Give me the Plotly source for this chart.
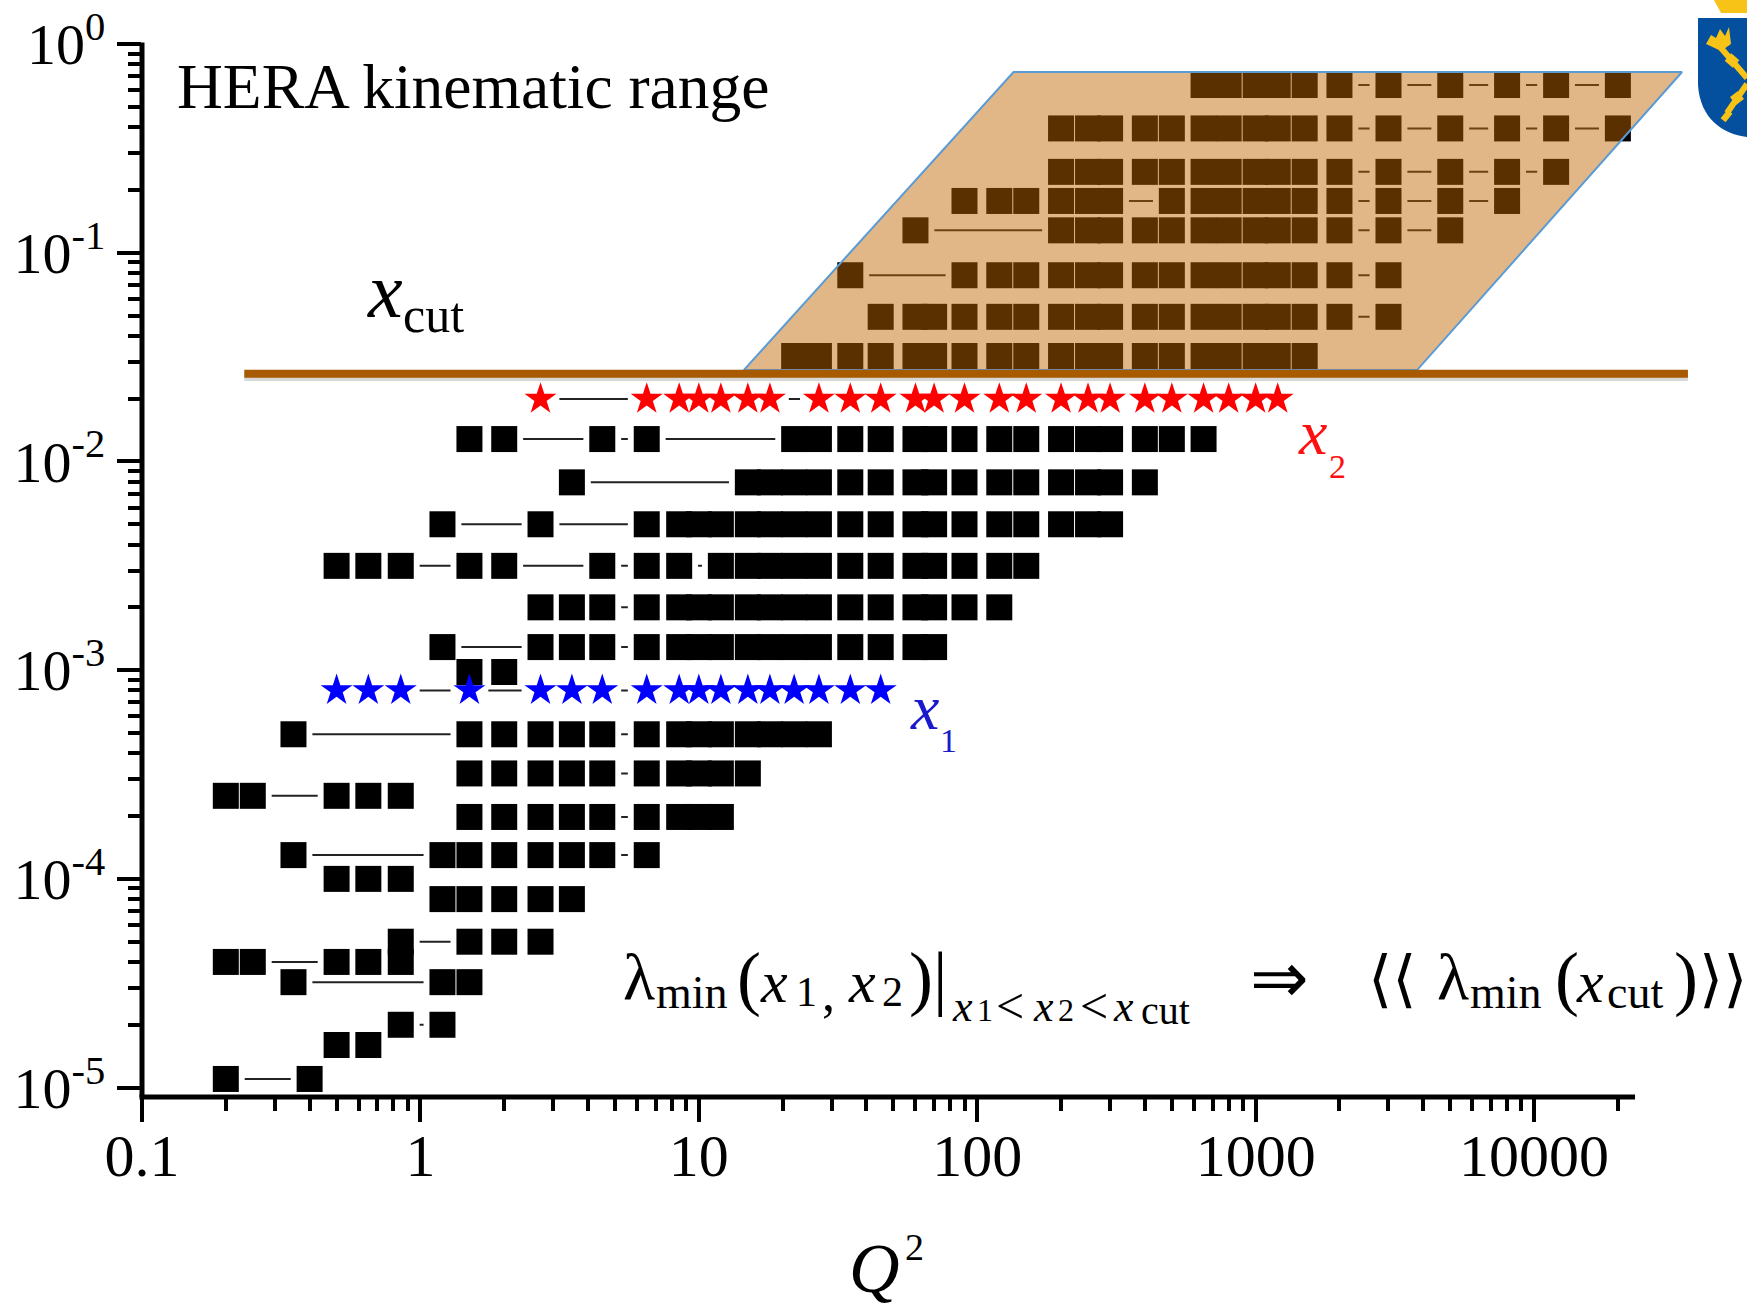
import plotly.graph_objects as go

# Q^2 grid rows of the HERA kinematic plane; each x value has its list of Q^2 points
X_A = 0.636
Q2_A = [650, 800, 1000, 1200, 1500, 2000, 3000, 5000, 8000, 12000, 20000]
X_B = 0.394
Q2_B = [200, 250, 300, 400, 500, 650, 800, 1000, 1200, 1500, 2000, 3000, 5000, 8000, 12000, 20000]
X_C = 0.244
Q2_C = [200, 250, 300, 400, 500, 650, 800, 1000, 1200, 1500, 2000, 3000, 5000, 8000, 12000]
X_D = 0.177
Q2_D = [90, 120, 150, 200, 250, 300, 500, 650, 800, 1000, 1200, 1500, 2000, 3000, 5000, 8000]
X_E = 0.128
Q2_E = [60, 200, 250, 300, 400, 500, 650, 800, 1000, 1200, 1500, 2000, 3000, 5000]
X_F = 0.078
Q2_F = [35, 90, 120, 150, 200, 250, 300, 400, 500, 650, 800, 1000, 1200, 1500, 2000, 3000]
X_G = 0.0493
Q2_G = [45, 60, 70, 90, 120, 150, 200, 250, 300, 400, 500, 650, 800, 1000, 1200, 1500, 2000, 3000]
X_H = 0.032
Q2_H = [22, 27, 35, 45, 60, 70, 90, 120, 150, 200, 250, 300, 400, 500, 650, 800, 1000, 1200, 1500]
X_I = 0.0128
Q2_I = [1.5, 2, 4.5, 6.5, 22, 27, 35, 45, 60, 70, 90, 120, 150, 200, 250, 300, 400, 500, 650]
X_J = 0.00794
Q2_J = [3.5, 15, 18, 22, 27, 35, 45, 60, 70, 90, 120, 150, 200, 250, 300, 400]
X_K = 0.005
Q2_K = [1.2, 2.7, 6.5, 8.5, 10, 12, 15, 18, 22, 27, 35, 45, 60, 70, 90, 120, 150, 200, 250, 300]
X_L = 0.00316
Q2_L = [0.5, 0.65, 0.85, 1.5, 2, 4.5, 6.5, 8.5, 12, 15, 18, 22, 27, 35, 45, 60, 70, 90, 120, 150]
X_M = 0.002
Q2_M = [2.7, 3.5, 4.5, 6.5, 8.5, 10, 12, 15, 18, 22, 27, 35, 45, 60, 70, 90, 120]
X_N = 0.00129
Q2_N = [1.2, 2.7, 3.5, 4.5, 6.5, 8.5, 10, 12, 15, 18, 22, 27, 35, 45, 60, 70]
X_O = 0.00098
Q2_O = [1.5, 2]
X_P = 0.000493
Q2_P = [0.35, 1.5, 2, 2.7, 3.5, 4.5, 6.5, 8.5, 10, 12, 15, 18, 22, 27]
X_Q = 0.00032
Q2_Q = [1.5, 2, 2.7, 3.5, 4.5, 6.5, 8.5, 10, 12, 15]
X_R = 0.00025
Q2_R = [0.2, 0.25, 0.5, 0.65, 0.85]
X_S = 0.000198
Q2_S = [1.5, 2, 2.7, 3.5, 4.5, 6.5, 8.5, 10, 12]
X_T = 0.00013
Q2_T = [0.35, 1.2, 1.5, 2, 2.7, 3.5, 4.5, 6.5]
X_U = 0.0001
Q2_U = [0.5, 0.65, 0.85]
X_V = 0.00008
Q2_V = [1.2, 1.5, 2, 2.7, 3.5]
X_W = 0.00005
Q2_W = [0.85, 1.5, 2, 2.7]
X_Y = 0.00004
Q2_Y = [0.2, 0.25, 0.5, 0.65, 0.85]
X_Z = 0.000032
Q2_Z = [0.35, 1.2, 1.5]
X_AA = 0.00002
Q2_AA = [0.85, 1.2]
X_AB = 0.000016
Q2_AB = [0.5, 0.65]
X_AC = 0.000011
Q2_AC = [0.2, 0.4]

X_RED = 0.0199
Q2_RED = [2.7, 6.5, 8.5, 10, 12, 15, 18, 27, 35, 45, 60, 70, 90, 120, 150, 200, 250, 300, 400, 500, 650, 800, 1000, 1200]
X_BLUE = 0.0008
Q2_BLUE = [0.5, 0.65, 0.85, 1.5, 2.7, 3.5, 4.5, 6.5, 8.5, 10, 12, 15, 18, 22, 27, 35, 45]

X_CUT = 0.0263
Q2_CUT_SPAN = [0.233, 35700]
REGION_Q2 = [14.5, 135, 34000, 3800, 14.5]
REGION_X = [0.0274, 0.734, 0.734, 0.0274, 0.0274]

X_TICK_VALUES = [0.1, 1, 10, 100, 1000, 10000]
X_TICK_LABELS = ["0.1", "1", "10", "100", "1000", "10000"]
Y_TICK_VALUES = [1, 0.1, 0.01, 0.001, 0.0001, 0.00001]
Y_TICK_LABELS = ["10<sup>0</sup>", "10<sup>-1</sup>", "10<sup>-2</sup>", "10<sup>-3</sup>", "10<sup>-4</sup>", "10<sup>-5</sup>"]

square_rows = [
    (X_A, Q2_A), (X_B, Q2_B), (X_C, Q2_C), (X_D, Q2_D), (X_E, Q2_E), (X_F, Q2_F), (X_G, Q2_G), (X_H, Q2_H),
    (X_I, Q2_I), (X_J, Q2_J), (X_K, Q2_K), (X_L, Q2_L), (X_M, Q2_M), (X_N, Q2_N), (X_O, Q2_O), (X_P, Q2_P),
    (X_Q, Q2_Q), (X_R, Q2_R), (X_S, Q2_S), (X_T, Q2_T), (X_U, Q2_U), (X_V, Q2_V), (X_W, Q2_W), (X_Y, Q2_Y),
    (X_Z, Q2_Z), (X_AA, Q2_AA), (X_AB, Q2_AB), (X_AC, Q2_AC),
]
all_rows = square_rows + [(X_RED, Q2_RED), (X_BLUE, Q2_BLUE)]


def flatten(rows):
    xs, ys = [], []
    for y, qs in rows:
        xs += list(qs) + [None]
        ys += [y] * len(qs) + [None]
    return xs, ys


W, H = 1747, 1309
L, T, B = 141.5, 44.0, 1096.7
SERIF = "Liberation Serif"
fig = go.Figure()

# connecting lines, then a white stroke on each point that opens the gap around the symbols
lx, ly = flatten(all_rows)
fig.add_trace(go.Scatter(x=lx, y=ly, mode="lines", line=dict(color="#222222", width=2), connectgaps=False,
                         hoverinfo="skip", showlegend=False))
fig.add_trace(go.Scatter(x=lx, y=ly, mode="markers", hoverinfo="skip", showlegend=False,
                         marker=dict(symbol="line-ew", size=27, color="white", line=dict(color="white", width=5))))
sx, sy = flatten(square_rows)
fig.add_trace(go.Scatter(x=sx, y=sy, mode="markers", name="data", showlegend=False,
                         marker=dict(symbol="square", size=26, color="black", line=dict(width=0))))
fig.add_trace(go.Scatter(x=Q2_RED, y=[X_RED] * len(Q2_RED), mode="markers", name="x2", showlegend=False,
                         marker=dict(symbol="star", size=24, color="#ff0000", line=dict(width=0))))
fig.add_trace(go.Scatter(x=Q2_BLUE, y=[X_BLUE] * len(Q2_BLUE), mode="markers", name="x1", showlegend=False,
                         marker=dict(symbol="star", size=24, color="#0000ff", line=dict(width=0))))

# translucent region on top of the points, so that they turn brown under it
fig.add_trace(go.Scatter(x=REGION_Q2, y=REGION_X, mode="lines", fill="toself", fillcolor="rgba(191,102,0,0.47)",
                         line=dict(color="#5b9bd5", width=2), hoverinfo="skip", showlegend=False))
# x_cut line with its soft shadow
fig.add_trace(go.Scatter(x=Q2_CUT_SPAN, y=[X_CUT * 0.965] * 2, mode="lines", hoverinfo="skip",
                         line=dict(color="rgba(60,60,60,0.2)", width=8), showlegend=False))
fig.add_trace(go.Scatter(x=Q2_CUT_SPAN, y=[X_CUT] * 2, mode="lines", hoverinfo="skip",
                         line=dict(color="#a85a00", width=8), showlegend=False))


def px(x):
    return (x - L) / (W - L)


def py(y):
    return 1 - (y - T) / (B - T)


def label(text, x, y, size, color="black", anchor="left", family=SERIF):
    fig.add_annotation(text=text, x=px(x), y=py(y), xref="paper", yref="paper", showarrow=False,
                       xanchor=anchor, yanchor="middle", align="left",
                       font=dict(family=family, size=size, color=color))


label("HERA kinematic range", 175, 86, 63.5)
label("<i>x</i>", 365, 290, 78)
label("cut", 401, 315, 50)
label("<i>x</i>", 1296, 432, 64, "#ff1010")
label("2", 1327, 466, 34, "#ff1010")
label("<i>x</i>", 908, 707, 64, "#1a1acc")
label("1", 938, 740, 34, "#1a1acc")
label("<i>Q</i>", 847, 1268, 70)
label("2", 903, 1247, 38)

# formula, piece by piece
label("λ", 621, 976, 66)
label("min", 654, 992, 46)
label("(", 735, 978, 72)
label("<i>x</i>", 758, 982, 60)
label("1", 794, 992, 42)
label(",", 820, 992, 52)
label("<i>x</i>", 846, 982, 60)
label("2", 880, 992, 42)
label(")", 907, 978, 72)
label("|", 931, 978, 72)
label("<i>x</i>", 950, 1006, 44)
label("1", 975, 1010, 32)
label("&lt;", 994, 1006, 50)
label("<i>x</i>", 1031, 1006, 44)
label("2", 1056, 1010, 32)
label("&lt;", 1078, 1006, 50)
label("<i>x</i>", 1111, 1006, 44)
label("cut", 1139, 1010, 40)
label("⇒", 1248, 978, 70, family="DejaVu Sans")
label("⟨⟨", 1366, 978, 62, family="DejaVu Sans")
label("λ", 1435, 976, 66)
label("min", 1468, 992, 46)
label("(", 1553, 978, 72)
label("<i>x</i>", 1574, 982, 60)
label("cut", 1605, 992, 46)
label(")", 1672, 978, 72)
label("⟩⟩", 1697, 978, 62, family="DejaVu Sans")

# crest at the top right corner
shapes = []


def shape_path(points, fill):
    d = ""
    for cmd, *coords in points:
        d += cmd + " ".join(f"{px(coords[i]):.5f},{py(coords[i + 1]):.5f}" for i in range(0, len(coords), 2)) + " "
    shapes.append(dict(type="path", path=d + "Z", xref="paper", yref="paper", fillcolor=fill, line=dict(width=0), layer="above"))


def shape_line(x0, y0, x1, y1, width, color="#f7c316"):
    shapes.append(dict(type="line", xref="paper", yref="paper", x0=px(x0), y0=py(y0), x1=px(x1), y1=py(y1),
                       line=dict(color=color, width=width), layer="above"))


# axis lines
shape_line(139, B, 1635, B, 5, "black")
shape_line(L, T - 1.5, L, B, 5, "black")

shape_path([("M", 1698, 18), ("L", 1747, 18), ("L", 1747, 137), ("C", 1722, 134, 1700, 118, 1698, 85)], "#044f9e")
shape_path([("M", 1714, 0), ("L", 1747, 0), ("L", 1747, 13), ("L", 1721, 13)], "#f7c316")
shape_path([("M", 1706, 44), ("L", 1711, 35), ("L", 1716, 38), ("L", 1720, 29), ("L", 1725, 36), ("L", 1729, 27),
            ("L", 1731, 44), ("L", 1721, 51)], "#f7c316")
shape_line(1721, 48, 1747, 78, 6)
shape_line(1728, 57, 1736, 64, 10)
shape_line(1747, 84, 1727, 113, 6)
shape_line(1733, 101, 1741, 95, 10)
shape_line(1724, 114, 1729, 118, 11)
fig.update_layout(shapes=shapes)

minor_x = [m * 10 ** e for e in range(-1, 4) for m in range(2, 10)] + [20000]
minor_x = [v for v in minor_x if v <= 20000]
minor_y = [m * 10.0 ** e for e in range(-5, 0) for m in range(2, 10)] + [9e-6]

fig.update_xaxes(type="log", range=[-1, -1 + (W - L) / 278.5], showgrid=False, zeroline=False, showline=False,
                 tickmode="array", tickvals=X_TICK_VALUES, ticktext=X_TICK_LABELS, ticks="outside", ticklen=24,
                 tickwidth=4, tickcolor="black", tickfont=dict(family=SERIF, size=60, color="black"), ticklabelstandoff=-18,
                 minor=dict(tickmode="array", tickvals=minor_x, ticks="outside", ticklen=13, tickwidth=4, tickcolor="black", showgrid=False))
fig.update_yaxes(type="log", range=[-(B - T) / 208.66, 0], showgrid=False, zeroline=False, showline=False,
                 tickmode="array", tickvals=Y_TICK_VALUES, ticktext=Y_TICK_LABELS, ticks="outside", ticklen=24,
                 tickwidth=4, tickcolor="black", tickfont=dict(family=SERIF, size=58, color="black"),
                 minor=dict(tickmode="array", tickvals=minor_y, ticks="outside", ticklen=13, tickwidth=4, tickcolor="black", showgrid=False))
fig.update_layout(width=W, height=H, autosize=False, paper_bgcolor="white", plot_bgcolor="white",
                  margin=dict(l=L, r=0, t=T, b=H - B, pad=0), showlegend=False)

fig.write_html("out.html", config={"displayModeBar": False},
               post_script="document.body.style.margin='0';document.documentElement.style.overflow='hidden';")
